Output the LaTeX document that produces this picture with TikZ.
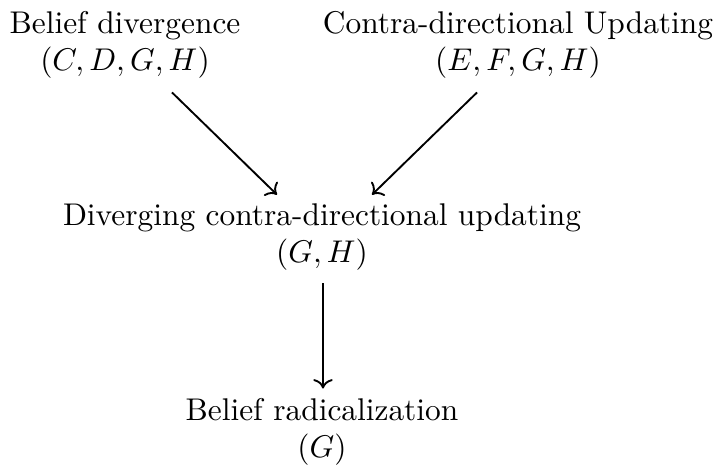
\documentclass[tikz,border=0pt]{standalone}
\usetikzlibrary{calc,arrows.meta}
\begin{document}
\begin{tikzpicture}[x=0.3185pt,y=-0.3185pt,
  lbl/.style={align=center,inner sep=0pt},
  conn/.style={-{To[length=3pt,width=6.2pt]},line width=0.6pt}]
\useasboundingbox (0,0) rectangle (715,471);
\node[lbl] (bd) at (125,45) {Belief divergence\\$(C,D,G,H)$};
\node[lbl] (cu) at (518,45) {Contra-directional Updating\\$(E,F,G,H)$};
\node[lbl] (dc) at (322,237) {Diverging contra-directional updating\\$(G,H)$};
\node[lbl] (br) at (322,432) {Belief radicalization\\$(G)$};
\draw[conn] ($(bd.south)+(47,13)$) -- ($(dc.north)+(-45,-8)$);
\draw[conn] ($(cu.south)+(-41,13)$) -- ($(dc.north)+(50,-8)$);
\draw[conn] ($(dc.south)+(1,12)$) -- ($(br.north)+(1,-9)$);
\end{tikzpicture}
\end{document}
